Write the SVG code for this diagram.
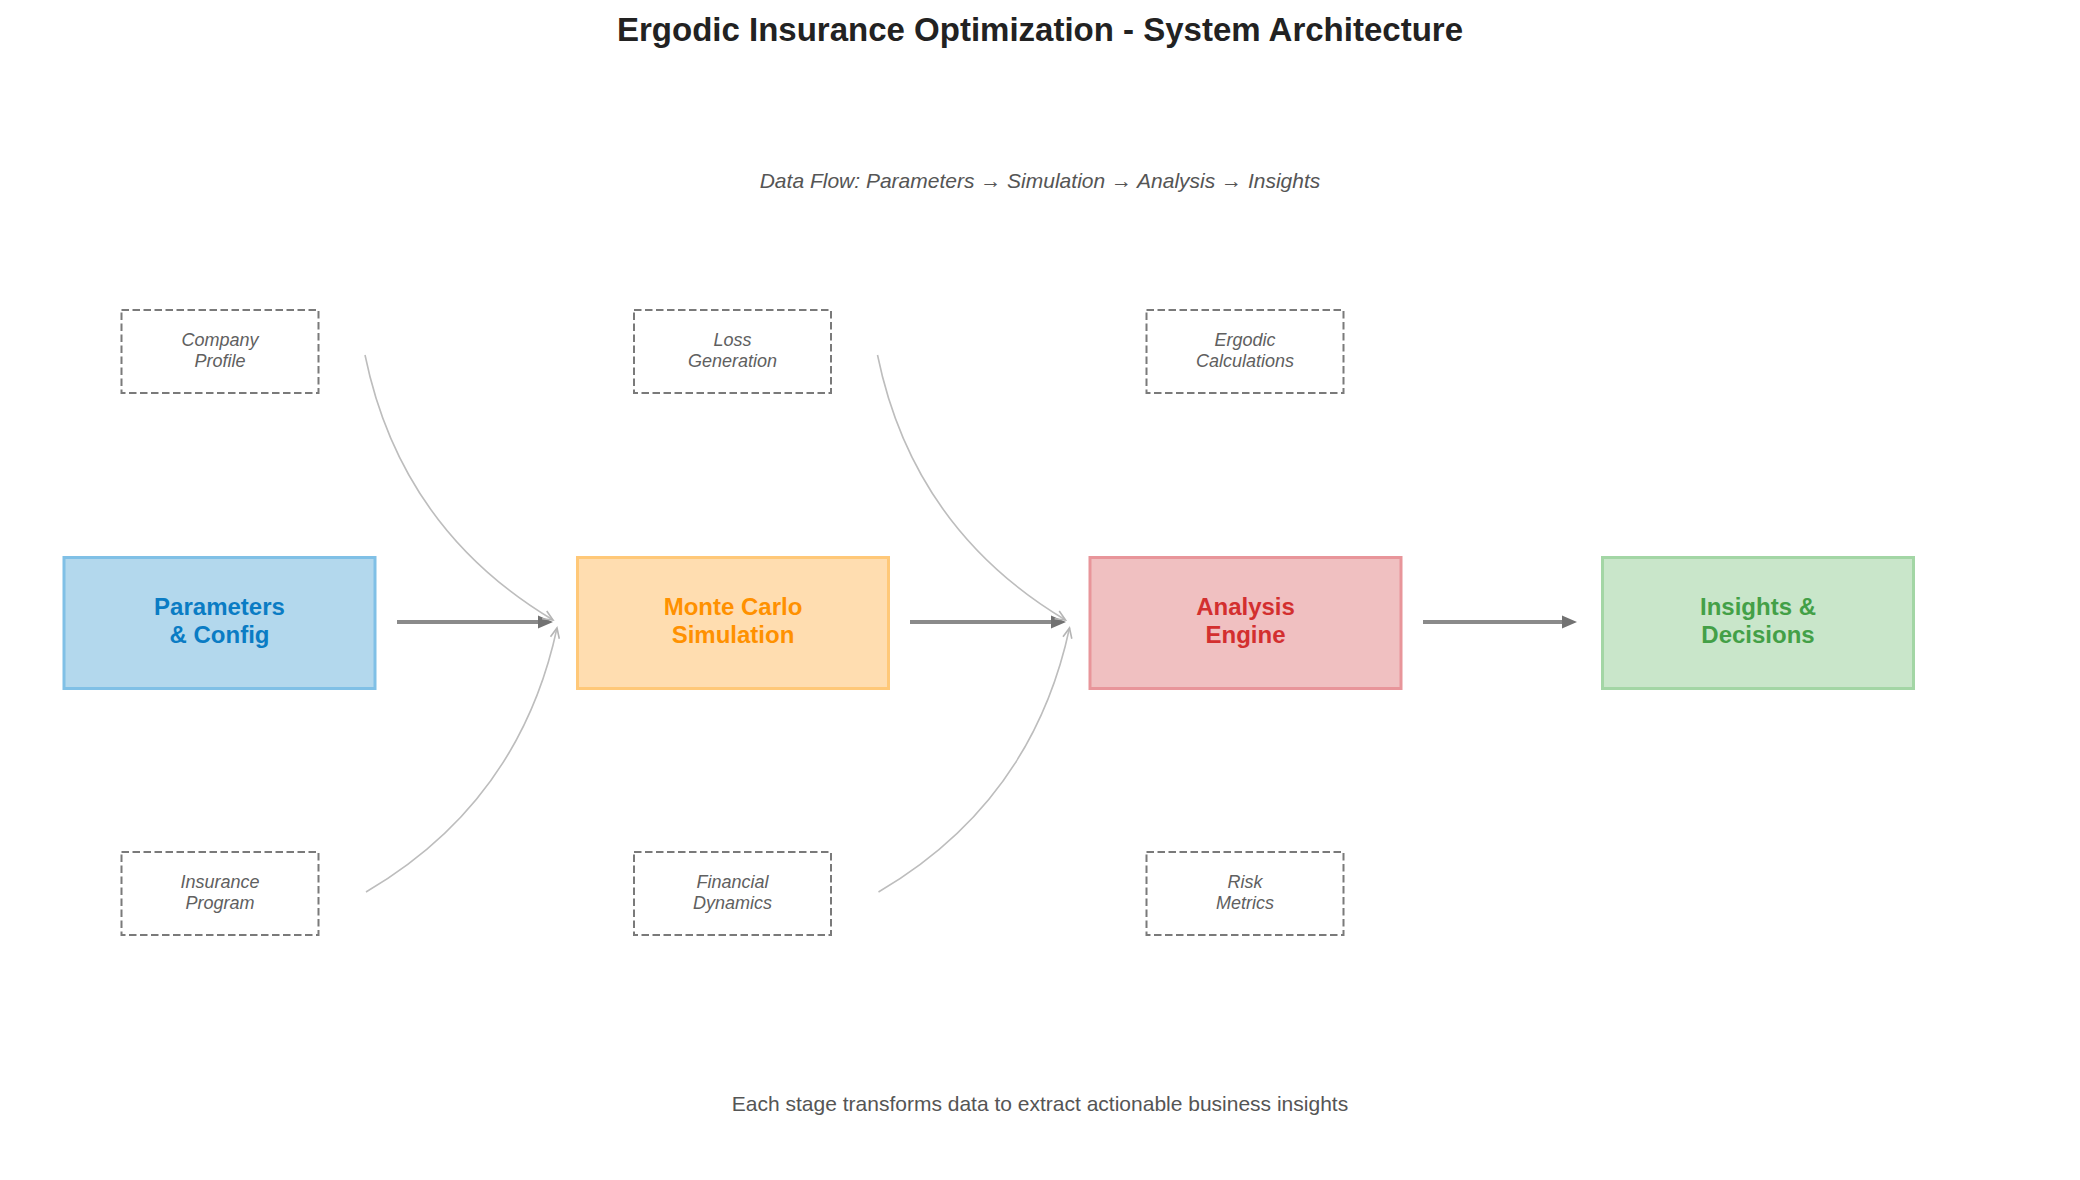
<svg xmlns="http://www.w3.org/2000/svg" width="2080" height="1180" viewBox="0 0 2080 1180">
<style>
  text { font-family: "Liberation Sans", Arial, sans-serif; text-anchor: middle; }
  .title { font-size: 33px; font-weight: bold; fill: #222222; }
  .sub { font-size: 21px; font-style: italic; fill: #555555; }
  .foot { font-size: 21px; fill: #555555; }
  .main rect { stroke-width: 3; }
  .main text { font-size: 24px; font-weight: bold; }
  .aux rect { fill: none; stroke: #7a7a7a; stroke-width: 2; stroke-dasharray: 7.5 3.5; }
  .aux text { font-size: 18px; font-style: italic; fill: #606060; }
  .flow { stroke: #8a8a8a; stroke-width: 4; fill: none; marker-end: url(#fat); }
  .feed { stroke: #bdbdbd; stroke-width: 1.6; fill: none; marker-end: url(#open); }
</style>
<defs>
  <marker id="fat" markerUnits="userSpaceOnUse" markerWidth="18" markerHeight="14" refX="0" refY="6.5" orient="auto" overflow="visible">
    <path d="M0,0 L15,6.5 L0,13 z" fill="#727272"/>
  </marker>
  <marker id="open" markerUnits="userSpaceOnUse" markerWidth="14" markerHeight="12" refX="0" refY="0" orient="auto" overflow="visible">
    <path d="M-10,-4.5 L0,0 L-10,4.5" fill="none" stroke="#b5b5b5" stroke-width="1.6"/>
  </marker>
</defs>
<rect width="2080" height="1180" fill="#ffffff"/>
<text class="title" x="1040" y="41">Ergodic Insurance Optimization - System Architecture</text>
<text class="sub" x="1040" y="188">Data Flow: Parameters → Simulation → Analysis → Insights</text>

<g id="connectors">
  <line class="flow" x1="397" y1="622" x2="538" y2="622"/>
  <line class="flow" x1="910" y1="622" x2="1051" y2="622"/>
  <line class="flow" x1="1423" y1="622" x2="1562" y2="622"/>
  <path class="feed" d="M365,355 Q400.7,528.9 553,620"/>
  <path class="feed" d="M366,892 Q519.6,802 557,628"/>
  <path class="feed" d="M877.5,355 Q913.2,528.9 1065.5,620"/>
  <path class="feed" d="M878.5,892 Q1032.1,802 1069.5,628"/>
</g>

<g id="params" class="main">
  <rect x="64" y="557.5" width="311" height="131" fill="#b3d8ed" stroke="#80c0e6"/>
  <text x="219.5" y="615" fill="#0a7cc4">Parameters</text>
  <text x="219.5" y="643" fill="#0a7cc4">&amp; Config</text>
</g>
<g id="montecarlo" class="main">
  <rect x="577.5" y="557.5" width="311" height="131" fill="#ffddb0" stroke="#ffc878"/>
  <text x="733" y="615" fill="#ff9100">Monte Carlo</text>
  <text x="733" y="643" fill="#ff9100">Simulation</text>
</g>
<g id="analysis" class="main">
  <rect x="1090" y="557.5" width="311" height="131" fill="#f0c0c1" stroke="#e8959a"/>
  <text x="1245.5" y="615" fill="#d32f2f">Analysis</text>
  <text x="1245.5" y="643" fill="#d32f2f">Engine</text>
</g>
<g id="insights" class="main">
  <rect x="1602.5" y="557.5" width="311" height="131" fill="#c9e6ca" stroke="#a3d6a5"/>
  <text x="1758" y="615" fill="#43a047">Insights &amp;</text>
  <text x="1758" y="643" fill="#43a047">Decisions</text>
</g>

<g id="company" class="aux">
  <rect x="121.5" y="310" width="197" height="83"/>
  <text x="220" y="346">Company</text>
  <text x="220" y="367">Profile</text>
</g>
<g id="insurance" class="aux">
  <rect x="121.5" y="852" width="197" height="83"/>
  <text x="220" y="888">Insurance</text>
  <text x="220" y="909">Program</text>
</g>
<g id="loss" class="aux">
  <rect x="634" y="310" width="197" height="83"/>
  <text x="732.5" y="346">Loss</text>
  <text x="732.5" y="367">Generation</text>
</g>
<g id="financial" class="aux">
  <rect x="634" y="852" width="197" height="83"/>
  <text x="732.5" y="888">Financial</text>
  <text x="732.5" y="909">Dynamics</text>
</g>
<g id="ergodic" class="aux">
  <rect x="1146.5" y="310" width="197" height="83"/>
  <text x="1245" y="346">Ergodic</text>
  <text x="1245" y="367">Calculations</text>
</g>
<g id="risk" class="aux">
  <rect x="1146.5" y="852" width="197" height="83"/>
  <text x="1245" y="888">Risk</text>
  <text x="1245" y="909">Metrics</text>
</g>

<text class="foot" x="1040" y="1111">Each stage transforms data to extract actionable business insights</text>
</svg>
